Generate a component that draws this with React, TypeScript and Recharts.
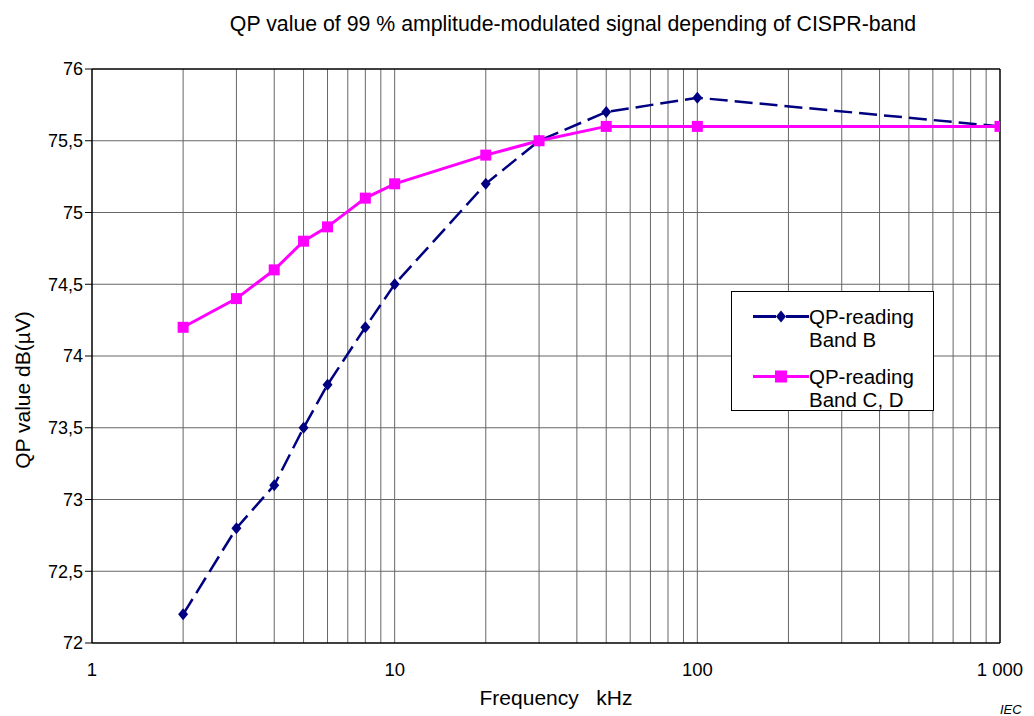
import React from 'react';
import { LineChart, Line, XAxis, YAxis, ReferenceLine } from 'recharts';

const freqs = [2, 3, 4, 5, 6, 8, 10, 20, 30, 50, 100, 1000];
const bandB = [72.2, 72.8, 73.1, 73.5, 73.8, 74.2, 74.5, 75.2, 75.5, 75.7, 75.8, 75.6];
const bandCD = [74.2, 74.4, 74.6, 74.8, 74.9, 75.1, 75.2, 75.4, 75.5, 75.6, 75.6, 75.6];

const xTicks = [1, 10, 100, 1000];
const yTicks = [72, 72.5, 73, 73.5, 74, 74.5, 75, 75.5, 76];
const gridX = [2, 3, 4, 5, 6, 7, 8, 9, 10, 20, 30, 40, 50, 60, 70, 80, 90, 100, 200, 300, 400, 500, 600, 700, 800, 900];

const data = freqs.map((f, i) => ({ f, b: bandB[i], cd: bandCD[i] }));

const NAVY = '#000080';
const MAGENTA = '#ff00ff';
const FONT = '"Liberation Sans", Arial, sans-serif';

const Diamond = (props: any) => {
  const { cx, cy } = props;
  if (cx == null || cy == null) return null;
  return <polygon points={`${cx},${cy - 6} ${cx + 5},${cy} ${cx},${cy + 6} ${cx - 5},${cy}`} fill={NAVY} />;
};

const Square = (props: any) => {
  const { cx, cy } = props;
  if (cx == null || cy == null) return null;
  return <rect x={cx - 5.5} y={cy - 5.5} width={11} height={11} fill={MAGENTA} />;
};

const LegendBox = () => (
  <div
    style={{
      position: 'absolute', left: 723, top: 283, width: 203, height: 120, boxSizing: 'border-box',
      border: '1px solid #000', background: '#fff', fontFamily: FONT, fontSize: 20.5, lineHeight: '23px', color: '#000',
    }}
  >
    <div style={{ position: 'absolute', left: 21, top: 13, display: 'flex', alignItems: 'flex-start' }}>
      <svg width={56} height={23}>
        <line x1={0} y1={11.5} x2={23} y2={11.5} stroke={NAVY} strokeWidth={3} />
        <line x1={33} y1={11.5} x2={56} y2={11.5} stroke={NAVY} strokeWidth={3} />
        <polygon points="28,5.5 33,11.5 28,17.5 23,11.5" fill={NAVY} />
      </svg>
      <div>QP-reading<br />Band B</div>
    </div>
    <div style={{ position: 'absolute', left: 21, top: 73, display: 'flex', alignItems: 'flex-start' }}>
      <svg width={56} height={23}>
        <line x1={0} y1={11.5} x2={56} y2={11.5} stroke={MAGENTA} strokeWidth={3} />
        <rect x={22} y={5.5} width={12} height={12} fill={MAGENTA} />
      </svg>
      <div>QP-reading<br />Band C, D</div>
    </div>
  </div>
);

export default function App() {
  return (
    <div style={{ position: 'relative', width: 1026, height: 708, fontFamily: FONT }}>
      <LineChart width={1026} height={708} data={data} margin={{ top: 61, right: 34, bottom: 43, left: 24 }}>
        {gridX.map((g) => (
          <ReferenceLine key={'x' + g} x={g} stroke="#666" strokeWidth={1} />
        ))}
        {yTicks.slice(1, -1).map((g) => (
          <ReferenceLine key={'y' + g} y={g} stroke="#666" strokeWidth={1} />
        ))}
        <ReferenceLine y={76} stroke="#000" strokeWidth={1.5} />
        <ReferenceLine x={1000} stroke="#000" strokeWidth={1.5} />
        <XAxis
          dataKey="f"
          type="number"
          scale="log"
          domain={[1, 1000]}
          ticks={xTicks}
          height={30}
          allowDataOverflow
          tickFormatter={(v: number) => (v === 1000 ? '1 000' : String(v))}
          tickLine={false}
          axisLine={{ stroke: '#000', strokeWidth: 1.5 }}
          tick={{ fill: '#000', fontSize: 18.5, fontFamily: FONT }}
          tickMargin={14}
        />
        <YAxis
          type="number"
          domain={[72, 76]}
          ticks={yTicks}
          width={60}
          tickFormatter={(v: number) => String(v).replace('.', ',')}
          tickSize={7}
          tickLine={{ stroke: '#000' }}
          axisLine={{ stroke: '#000', strokeWidth: 1.5 }}
          tick={{ fill: '#000', fontSize: 18, fontFamily: FONT }}
        />
        <Line
          dataKey="b"
          stroke={NAVY}
          strokeWidth={2.5}
          strokeDasharray="18 7"
          dot={<Diamond />}
          activeDot={false}
          isAnimationActive={false}
        />
        <Line
          dataKey="cd"
          stroke={MAGENTA}
          strokeWidth={3}
          dot={<Square />}
          activeDot={false}
          isAnimationActive={false}
        />
        <text x={565} y={23} textAnchor="middle" fontSize={21.3} fontFamily={FONT} fill="#000">
          QP value of 99 % amplitude-modulated signal depending of CISPR-band
        </text>
        <text x={548} y={697} textAnchor="middle" fontSize={21} fontFamily={FONT} fill="#000">
          {'Frequency\u00a0\u00a0\u00a0kHz'}
        </text>
        <text x={22} y={382} textAnchor="middle" fontSize={21} fontFamily={FONT} fill="#000" transform="rotate(-90 22 382)">
          QP value dB(µV)
        </text>
        <text x={992} y={706} fontSize={13} fontStyle="italic" fontFamily={FONT} fill="#000">
          IEC
        </text>
      </LineChart>
      <LegendBox />
    </div>
  );
}
